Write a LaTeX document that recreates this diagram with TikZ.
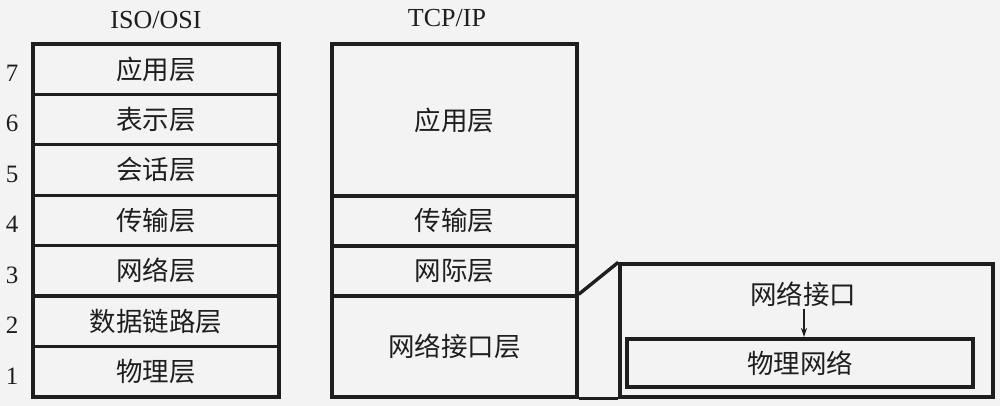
\documentclass[tikz,border=0pt]{standalone}
\usepackage{fontspec}
\setmainfont{Liberation Serif}
\newfontfamily\cjk{Noto Sans CJK SC}
\usetikzlibrary{arrows.meta}
\definecolor{paper}{HTML}{F3F3F3}
\definecolor{ink}{HTML}{1E1E1E}
\begin{document}
\begin{tikzpicture}[x=1pt,y=-1pt,
  frame/.style={draw=ink, line width=3.4pt},
  layer/.style={frame, inner sep=0pt, text=ink,
    font=\cjk\fontsize{26.5}{26.5}\selectfont},
  osirow/.style={layer, minimum width=246pt, minimum height=50.4pt},
  tcprow/.style={layer, minimum width=245pt},
  num/.style={text=ink, font=\fontsize{25}{25}\selectfont},
  head/.style={text=ink, font=\fontsize{26}{26}\selectfont},
  plain/.style={text=ink, font=\cjk\fontsize{26.5}{26.5}\selectfont}]
\fill[paper] (0,0) rectangle (1000,406);
\useasboundingbox (0,0) rectangle (1000,406);

% column headings
\node[head] (hosi) at (156,20) {ISO/OSI};
\node[head] (htcp) at (447,18) {TCP/IP};

% ISO/OSI seven layers
\node[osirow] (o7) at (156,69.2)  {应用层};
\node[osirow] (o6) at (156,119.6) {表示层};
\node[osirow] (o5) at (156,170.0) {会话层};
\node[osirow] (o4) at (156,220.4) {传输层};
\node[osirow] (o3) at (156,270.8) {网络层};
\node[osirow] (o2) at (156,321.2) {数据链路层};
\node[osirow] (o1) at (156,371.6) {物理层};

% layer numbers
\foreach \n/\y in {7/73,6/123,5/174,4/224,3/275,2/325,1/376}
  \node[num] (n\n) at (12,\y) {\n};

% TCP/IP four layers
\node[tcprow, minimum height=152pt] (tapp)  at (454.5,120)   {应用层};
\node[tcprow, minimum height=50pt]  (ttr)   at (454.5,221)   {传输层};
\node[tcprow, minimum height=50pt]  (tnet)  at (454.5,271)   {网际层};
\node[tcprow, minimum height=101pt] (tlink) at (454.5,346.5) {网络接口层};

% expanded view of the network interface layer
\node[frame, minimum width=373pt, minimum height=133pt,
  inner sep=0pt] (outer) at (806.5,330.5) {};
\node[draw=ink, line width=4pt, minimum width=346pt, minimum height=48pt,
  inner sep=0pt, plain] (phys) at (800,363) {物理网络};
\node[plain, inner sep=2pt] (iface) at (803,294) {网络接口};
\draw[ink, line width=1.4pt, -{Stealth[length=9pt,width=6pt]}]
  (iface.south -| phys.north) ++(4,0) coordinate (a0) -- (a0 |- phys.north);

% links from the TCP/IP column to the expanded box
\draw[frame] (tlink.north east) -- (outer.north west);
\draw[frame] (tlink.south east) -- (outer.south west);
\end{tikzpicture}
\end{document}
